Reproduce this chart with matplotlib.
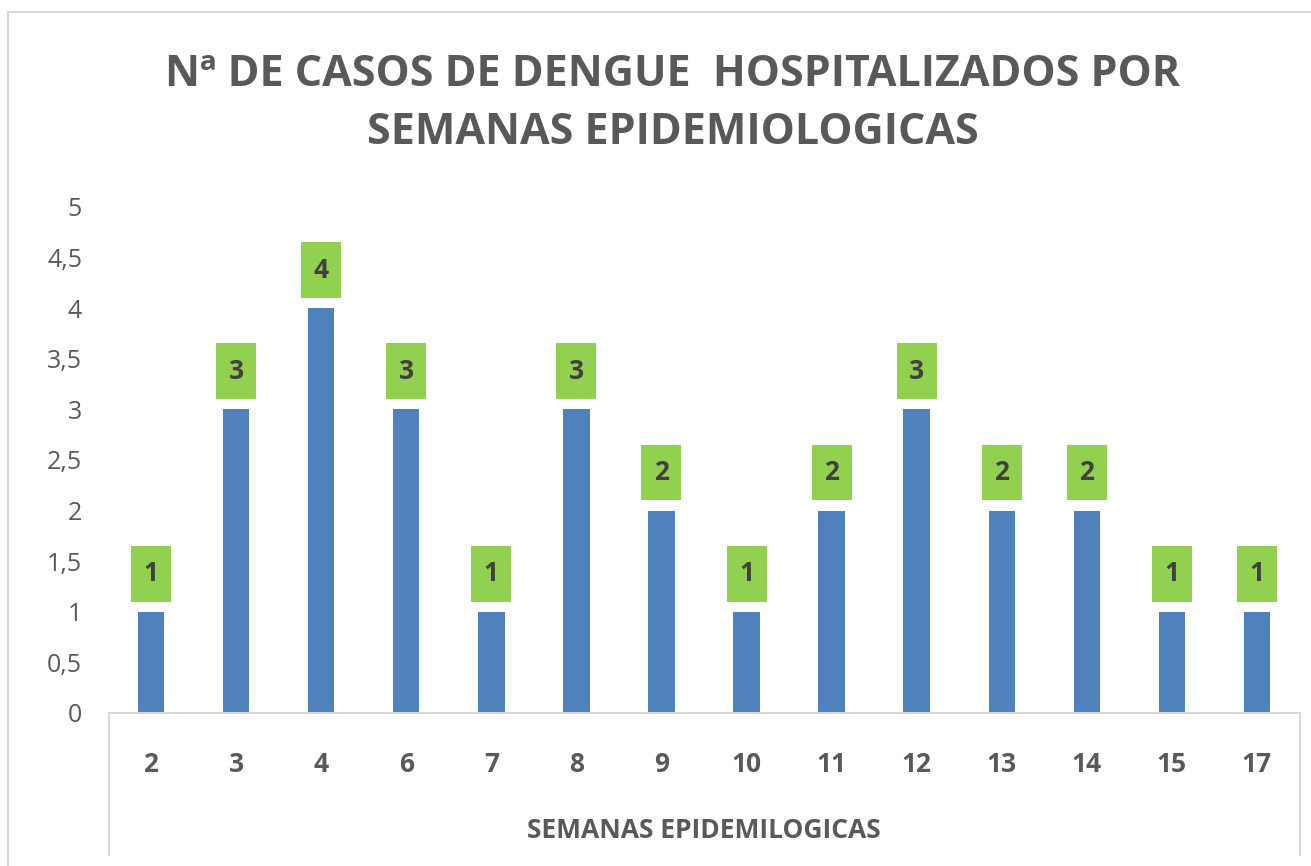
import matplotlib
matplotlib.use("Agg")
import matplotlib.pyplot as plt
import numpy as np

semanas = ["2", "3", "4", "6", "7", "8", "9", "10", "11", "12", "13", "14", "15", "17"]
casos = [1, 3, 4, 3, 1, 3, 2, 1, 2, 3, 2, 2, 1, 1]
yticks = [0, 0.5, 1, 1.5, 2, 2.5, 3, 3.5, 4, 4.5, 5]
ytick_labels = ["0", "0,5", "1", "1,5", "2", "2,5", "3", "3,5", "4", "4,5", "5"]

plt.rcParams['font.family'] = ['Open Sans', 'DejaVu Sans']
gray = "#595959"
W, H = 1311, 866
fig = plt.figure(figsize=(W / 100, H / 100), dpi=100)

# chart border
fig.add_artist(plt.Line2D([8 / W, 8 / W], [0, 1 - 12 / H], color="#D9D9D9", lw=1.5))
fig.add_artist(plt.Line2D([8 / W, 1], [1 - 12 / H, 1 - 12 / H], color="#D9D9D9", lw=1.5))

left, right = 108.5 / W, 1299.5 / W
bottom, top = 1 - 713 / H, 1 - 207 / H
ax = fig.add_axes([left, bottom, right - left, top - bottom])

x = np.arange(len(semanas))
vals = np.array(casos, dtype=float)
ax.bar(x, vals, width=0.31, color="#4F81BD", zorder=2)
# label boxes
ax.bar(x, 0.553, bottom=vals + 0.1, width=0.47, color="#92D050", zorder=2)
for xi, v in zip(x, casos):
    ax.text(xi, v + 0.1 + 0.553 / 2, str(v), ha="center", va="center",
            fontsize=19, fontweight="bold", color="#404040", zorder=3)

ax.set_xlim(-0.5, len(semanas) - 0.5)
ax.set_ylim(0, 5)
ax.set_yticks(yticks)
ax.set_yticklabels(ytick_labels, fontsize=18, color=gray)
ax.set_xticks(x)
ax.set_xticklabels(semanas, fontsize=19, fontweight="bold", color=gray)
ax.tick_params(axis="y", length=0, pad=19)
ax.tick_params(axis="x", length=0, pad=27)
for s in ["top", "right", "left"]:
    ax.spines[s].set_visible(False)
ax.spines["bottom"].set_color("#D9D9D9")
ax.spines["bottom"].set_linewidth(1.5)

# multilevel category lines
for xp in [left, right]:
    fig.add_artist(plt.Line2D([xp, xp], [1 - 855 / H, bottom], color="#D9D9D9", lw=1.5))

fig.text((left + right) / 2, 1 - 830 / H, "SEMANAS EPIDEMILOGICAS", ha="center", va="center",
         fontsize=19, fontweight="bold", color=gray)

fig.text(0.513, 1 - 74 / H, "Nª DE CASOS DE DENGUE  HOSPITALIZADOS POR", ha="center", va="center",
         fontsize=31, fontweight="bold", color=gray)
fig.text(0.513, 1 - 133 / H, "SEMANAS EPIDEMIOLOGICAS", ha="center", va="center",
         fontsize=31, fontweight="bold", color=gray)

fig.savefig("out.png", dpi=100)
